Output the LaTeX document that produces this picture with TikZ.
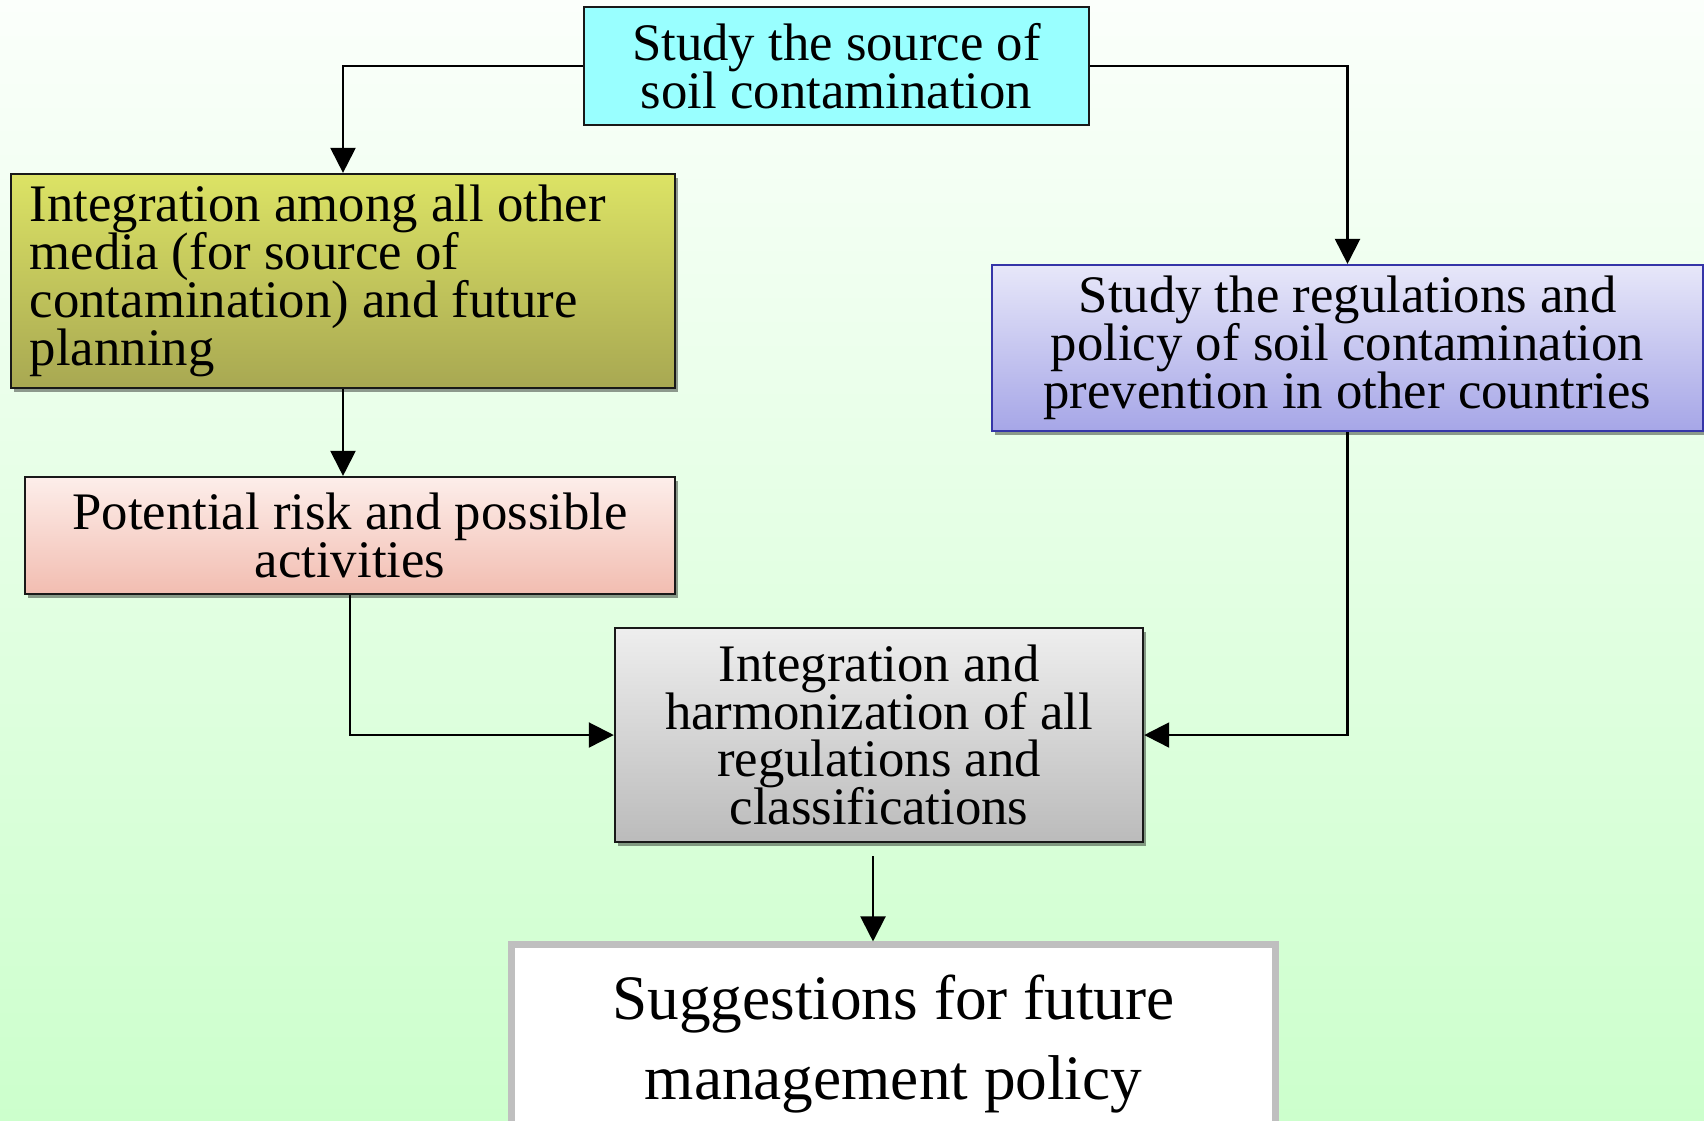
\documentclass[tikz,border=0pt]{standalone}
\usepackage{fontspec}
\setmainfont{Liberation Serif}
\usetikzlibrary{arrows.meta,shadows}

\definecolor{bgtop}{HTML}{FBFFFB}
\definecolor{bgbot}{HTML}{CCFFCC}
\definecolor{srcfill}{HTML}{99FFFF}
\definecolor{olivetop}{HTML}{DCE365}
\definecolor{olivebot}{HTML}{A8A852}
\definecolor{pinktop}{HTML}{FDEEEA}
\definecolor{pinkbot}{HTML}{F2BDB1}
\definecolor{bluetop}{HTML}{E7E7F9}
\definecolor{bluebot}{HTML}{A6A6E7}
\definecolor{blueline}{HTML}{3535A8}
\definecolor{graytop}{HTML}{EEEEEE}
\definecolor{graybot}{HTML}{BBBBBB}

\begin{document}
\begin{tikzpicture}[x=0.01cm,y=-0.01cm]
    \tikzstyle{every node}+=[inner sep=0pt,
        font={\fontsize{15}{13.6}\selectfont\lineskiplimit=-\maxdimen}]
    \tikzstyle{box}=[draw=black!90, line width=0.6pt, align=center,
        drop shadow={shadow xshift=0.03cm, shadow yshift=-0.04cm, fill=black, opacity=0.4}]
    \tikzstyle{link}=[black, line width=0.6pt, -{Triangle[length=0.25cm,width=0.25cm]}]
    % background
    \useasboundingbox (0,0) rectangle (1704,1120);
    \shade [top color=bgtop, bottom color=bgbot] (0,0) rectangle (1704,1120);
    \clip (0,0) rectangle (1704,1120);
    % boxes
    \node [draw=black!90, line width=0.6pt, align=center, fill=srcfill,
        minimum width=5.05cm, minimum height=1.18cm] (src) at (836.5,66)
        {Study the source of\\soil contamination};
    \node [box, top color=olivetop, bottom color=olivebot, align=flush left,
        text width=6.26cm, inner xsep=0.19cm, minimum height=2.14cm] (media) at (343,281)
        {Integration among all other\\media (for source of\\contamination) and future\\planning};
    \node [box, top color=pinktop, bottom color=pinkbot,
        minimum width=6.5cm, minimum height=1.17cm] (risk) at (350,535.5)
        {Potential risk and possible\\activities};
    \node [box, draw=blueline, top color=bluetop, bottom color=bluebot,
        minimum width=7.11cm, minimum height=1.66cm] (regs) at (1347.5,348)
        {Study the regulations and\\policy of soil contamination\\prevention in other countries};
    \node [box, top color=graytop, bottom color=graybot,
        minimum width=5.28cm, minimum height=2.14cm] (harm) at (879,735)
        {Integration and\\harmonization of all\\regulations and\\classifications};
    \node [draw=gray!50, line width=2pt, fill=white, align=center,
        font={\fontsize{18}{22.6}\selectfont\lineskiplimit=-\maxdimen},
        minimum width=7.63cm, minimum height=1.98cm] (sugg) at (893.5,1044)
        {Suggestions for future\\management policy};
    % connectors
    \draw [link] (src.west) -| (media.north);
    \draw [link] (src.east) -| (regs.north);
    \draw [link] (media.south) -- (media.south |- risk.north);
    \draw [link] (risk.south) |- (harm.west);
    \draw [link] (regs.south) |- (harm.east);
    \coordinate (hout) at ([xshift=-0.06cm,yshift=-0.13cm]harm.south);
    \draw [link] (hout) -- (hout |- sugg.north);
\end{tikzpicture}
\end{document}
